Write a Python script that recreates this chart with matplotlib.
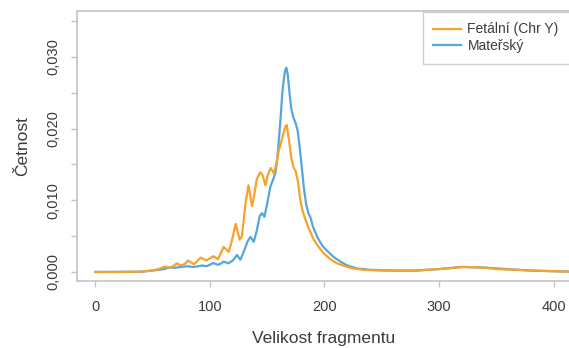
import matplotlib
matplotlib.use("Agg")
import matplotlib.pyplot as plt
import numpy as np

# Fetal (Chr Y) fragment-size density
fetal_x = [0, 20, 40, 50, 55, 58, 61, 65, 68, 71, 75, 78, 81, 86, 89, 92, 97, 100, 103, 107,
           109.5, 112, 116.4, 119, 122.5, 126, 128, 131, 133.7, 136.8, 139, 141, 144, 146,
           148.5, 150.5, 153, 155.7, 158, 160, 162, 164, 166, 167, 169, 171, 173, 175, 177,
           179, 181, 183.4, 186, 190.7, 195, 199.4, 205, 211, 218, 225, 235, 250, 278, 300,
           322, 340, 351, 380, 414]
fetal_y = [0, 0, 0.00005, 0.0002, 0.0004, 0.0006, 0.00074, 0.0006, 0.0008, 0.0012, 0.0009,
           0.0011, 0.0016, 0.0011, 0.0015, 0.0020, 0.0016, 0.0019, 0.0022, 0.0018, 0.0026,
           0.0035, 0.0028, 0.0042, 0.0067, 0.0045, 0.0050, 0.0095, 0.0121, 0.0092, 0.0110,
           0.0130, 0.0139, 0.0135, 0.0121, 0.0135, 0.0145, 0.0138, 0.0150, 0.0168, 0.0180,
           0.0192, 0.0203, 0.0205, 0.0185, 0.0160, 0.0146, 0.0140, 0.0125, 0.0100, 0.0085,
           0.0073, 0.0062, 0.0045, 0.0035, 0.0026, 0.0018, 0.0012, 0.0008, 0.0005, 0.0003,
           0.0002, 0.00018, 0.0004, 0.0007, 0.0006, 0.0004, 0.0002, 0.00005]

# Maternal fragment-size density
mat_x = [0, 40, 50, 60, 64, 70, 75, 80, 85, 90, 93, 97, 100, 103, 107, 110, 112, 116, 120,
         123.7, 126.6, 130, 133, 135.4, 138.3, 141, 143.5, 145.6, 147.6, 150, 152.8, 155,
         157.2, 159, 161.5, 163.5, 165.5, 166.8, 168, 169.5, 171, 173, 175, 176.5, 178, 180,
         182, 184, 186, 188, 190, 194, 198, 202, 208, 214, 220, 228, 240, 260, 280, 300, 320,
         340, 360, 380, 400, 414]
mat_y = [0, 0.00003, 0.0002, 0.0004, 0.0006, 0.0006, 0.0007, 0.0008, 0.0007, 0.0008, 0.0009,
         0.0008, 0.0010, 0.00125, 0.0010, 0.0012, 0.00145, 0.0012, 0.0016, 0.00237, 0.0017,
         0.0030, 0.0043, 0.0049, 0.0042, 0.0058, 0.0078, 0.0082, 0.0077, 0.0095, 0.0119,
         0.0128, 0.0138, 0.0160, 0.0210, 0.0255, 0.0280, 0.0285, 0.0275, 0.0250, 0.0228,
         0.0215, 0.0207, 0.0198, 0.0180, 0.0150, 0.0118, 0.0095, 0.0082, 0.0075, 0.0063,
         0.0048, 0.0037, 0.0030, 0.0021, 0.00144, 0.0009, 0.0005, 0.0003, 0.0002, 0.0002,
         0.0004, 0.0007, 0.0006, 0.0004, 0.0002, 0.0001, 0.00005]

labels = ["Fetální (Chr Y)", "Mateřský"]
x_ticks = [0, 100, 200, 300, 400]
y_major = [0.0, 0.01, 0.02, 0.03]
y_major_labels = ["0,000", "0,010", "0,020", "0,030"]
y_minor = [0.005, 0.015, 0.025, 0.035]

orange = "#F5A32A"
blue = "#55A6DD"
txt = "#3C3C3C"
grey = "#C4C4C4"

plt.rcParams["font.family"] = ["Liberation Sans", "DejaVu Sans"]

fig = plt.figure(figsize=(5.69, 3.48), dpi=100)
ax = fig.add_axes([77 / 569, 1 - 281 / 348, 1 - 77 / 569 + 0.001, (281 - 11) / 348])

l2, = ax.plot(mat_x, mat_y, color=blue, lw=1.6, solid_joinstyle="round")
l1, = ax.plot(fetal_x, fetal_y, color=orange, lw=1.6, solid_joinstyle="round")

ax.set_xlim(-16, 414)
ax.set_ylim(-0.00126, 0.0364)

ax.set_xticks(x_ticks)
ax.set_xticklabels([str(v) for v in x_ticks])
ax.set_yticks(y_major)
ax.set_yticklabels(y_major_labels, rotation=90, va="center")
ax.set_yticks(y_minor, minor=True)

for s in ["top", "left", "bottom"]:
    ax.spines[s].set_color(grey)
    ax.spines[s].set_linewidth(1.2)
ax.spines["right"].set_visible(False)

ax.tick_params(axis="both", which="both", colors=grey, length=4, width=1.0, direction="out")
ax.tick_params(axis="x", pad=10, labelsize=10.5, labelcolor=txt)
ax.tick_params(axis="y", pad=8, labelsize=10.5, labelcolor=txt)

ax.set_xlabel("Velikost fragmentu", fontsize=12.5, color=txt, labelpad=12)
ax.set_ylabel("Četnost", fontsize=12.5, color=txt, labelpad=12)

leg_h = 51 / 348
leg = fig.legend([l1, l2], labels, loc="upper left",
                 bbox_to_anchor=(423 / 569, 1 - 12 / 348 - leg_h, 0.4, leg_h), mode="expand",
                 bbox_transform=fig.transFigure, fontsize=10, frameon=True, fancybox=False,
                 handlelength=2.0, handletextpad=0.45, labelspacing=0.2, borderpad=0.75,
                 borderaxespad=0)
leg.get_frame().set_edgecolor(grey)
leg.get_frame().set_linewidth(1.0)
for t in leg.get_texts():
    t.set_color(txt)

fig.savefig("out.png", dpi=100)
